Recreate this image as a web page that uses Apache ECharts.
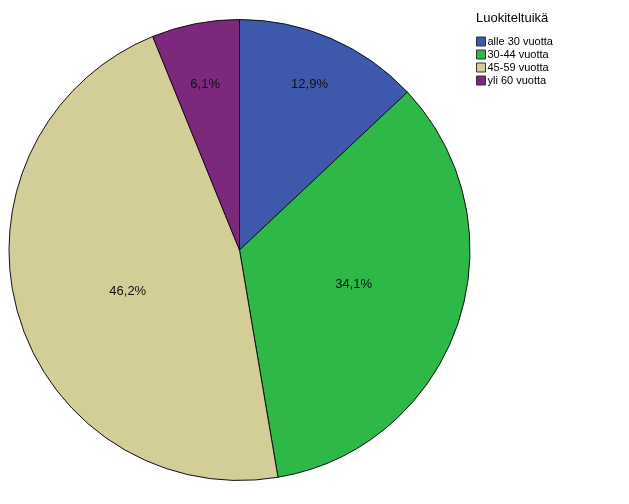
<!DOCTYPE html>
<html><head><meta charset="utf-8">
<script src="https://cdn.jsdelivr.net/npm/echarts@6/dist/echarts.min.js"></script>
<style>html,body{margin:0;padding:0;background:#fff}#c{width:629px;height:504px}</style>
</head><body><div id="c"></div>
<script>
var categories = ['alle 30 vuotta', '30-44 vuotta', '45-59 vuotta', 'yli 60 vuotta'];
var values = [12.9, 34.1, 46.2, 6.1];
var labels = ['12,9%', '34,1%', '46,2%', '6,1%'];
var colors = ['#3e58ac', '#2eb848', '#d3ce97', '#7c287d'];
var outerLabelItems = [true, false, false, true];
var labelDx = [-1, 2, 2, 0];
var labelDy = [-1, -3, 9, 10];

var chart = echarts.init(document.getElementById('c'), null, {renderer: 'canvas'});
var font = 'Arial, "Liberation Sans", sans-serif';
function mk(showFn, transparent) {
  return categories.map(function (c, i) {
    return {
      name: c, value: values[i],
      itemStyle: transparent ? {color: 'rgba(0,0,0,0)', borderWidth: 0} : {color: colors[i]},
      label: {show: showFn(i), formatter: labels[i]}
    };
  });
}
function shift(p) { return {dx: labelDx[p.dataIndex], dy: labelDy[p.dataIndex]}; }
chart.setOption({
  animation: false,
  color: colors,
  legend: {
    orient: 'vertical', left: 471, top: 31,
    itemWidth: 9, itemHeight: 9, itemGap: 2,
    icon: 'rect',
    data: categories,
    textStyle: {fontFamily: font, fontSize: 11, lineHeight: 11, color: '#000', padding: [0, 0, 0, -3]},
    itemStyle: {borderColor: '#333', borderWidth: 1}
  },
  graphic: [{type: 'text', left: 476, top: 12, style: {text: 'Luokiteltuikä', font: '13px ' + font, fill: '#000'}}],
  series: [{
    type: 'pie', center: [239.5, 250], radius: [0, 230.5], startAngle: 90, clockwise: true,
    silent: true,
    itemStyle: {borderColor: '#111', borderWidth: 1},
    label: {position: 'inside', color: '#111', fontFamily: font, fontSize: 13},
    labelLine: {show: false},
    labelLayout: shift,
    data: mk(function (i) { return !outerLabelItems[i]; }, false)
  }, {
    type: 'pie', center: [239.5, 250], radius: [120, 232], startAngle: 90, clockwise: true,
    silent: true, legendHoverLink: false,
    label: {position: 'inside', color: '#111', fontFamily: font, fontSize: 13},
    labelLine: {show: false},
    labelLayout: shift,
    data: mk(function (i) { return outerLabelItems[i]; }, true)
  }]
});
</script></body></html>
